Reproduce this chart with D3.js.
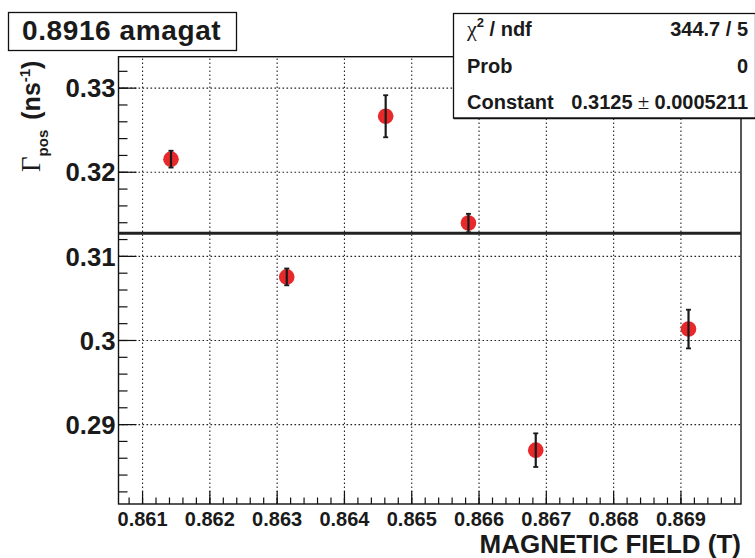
<!DOCTYPE html>
<html>
<head>
<meta charset="utf-8">
<script src="https://cdn.jsdelivr.net/npm/d3@7"></script>
<style>
  body { margin: 0; background: #fff; }
  text { font-family: "Liberation Sans", Arial, sans-serif; font-weight: bold; fill: #1a1a1a; }
</style>
</head>
<body>
<div class="canvas"></div>
<script>
// data
const fieldT = [0.86143, 0.86315, 0.86462, 0.86585, 0.86685, 0.86912];
const gammaPos = [0.3215, 0.3075, 0.3266, 0.3139, 0.2869, 0.3013];
const gammaErr = [0.0010, 0.0010, 0.0025, 0.0011, 0.0020, 0.0023];
const fitConstant = [0.3127];

const xTicks = [0.861, 0.862, 0.863, 0.864, 0.865, 0.866, 0.867, 0.868, 0.869];
const yTicks = [0.29, 0.30, 0.31, 0.32, 0.33];
const yTickLabels = ['0.29', '0.3', '0.31', '0.32', '0.33'];

const statNames = ['ndf', 'Prob', 'Constant'];
const statValues = ['344.7 / 5', '0', '0.3125'];
const constErr = '0.0005211';

// svg container
const svg = d3.select('.canvas')
    .append('svg')
    .attr('width', 755)
    .attr('height', 558);

// frame of the plot
const frame = { left: 118.5, right: 741, top: 56.7, bottom: 504 };

const x = d3.scaleLinear()
    .domain([0.86065, 0.86990])
    .range([frame.left, frame.right]);

const y = d3.scaleLinear()
    .domain([0.2805, 0.33368])
    .range([frame.bottom, frame.top]);

const minorX = d3.range(0.8608, 0.8699, 0.0002).filter(v => v >= 0.86065 && v <= 0.8699);
const minorY = d3.range(0.282, 0.3337, 0.002);

// dotted grid
const gridX = svg.append('g')
    .attr('transform', `translate(0, ${frame.bottom})`)
    .call(d3.axisBottom(x).tickValues(xTicks).tickSize(-(frame.bottom - frame.top)).tickFormat(''));
const gridY = svg.append('g')
    .attr('transform', `translate(${frame.left}, 0)`)
    .call(d3.axisLeft(y).tickValues(yTicks).tickSize(-(frame.right - frame.left)).tickFormat(''));
[gridX, gridY].forEach(g => {
    g.select('.domain').remove();
    g.selectAll('line')
        .attr('stroke', '#222')
        .attr('stroke-width', 1.1)
        .attr('stroke-dasharray', '1.6,2.4');
});

// minor ticks (inside the frame)
const minorXAxis = svg.append('g')
    .attr('transform', `translate(0, ${frame.bottom})`)
    .call(d3.axisBottom(x).tickValues(minorX).tickSize(-6.5).tickFormat(''));
const minorYAxis = svg.append('g')
    .attr('transform', `translate(${frame.left}, 0)`)
    .call(d3.axisLeft(y).tickValues(minorY).tickSize(-9).tickFormat(''));

// major ticks and labels
const xAxisGroup = svg.append('g')
    .attr('transform', `translate(0, ${frame.bottom})`)
    .call(d3.axisBottom(x).tickValues(xTicks).tickSizeInner(-13).tickSizeOuter(0).tickPadding(8)
        .tickFormat(d3.format('.3f')));
const yAxisGroup = svg.append('g')
    .attr('transform', `translate(${frame.left}, 0)`)
    .call(d3.axisLeft(y).tickValues(yTicks).tickSizeInner(-18).tickSizeOuter(0).tickPadding(4)
        .tickFormat((d, i) => yTickLabels[i]));

[minorXAxis, minorYAxis, xAxisGroup, yAxisGroup].forEach(g => {
    g.select('.domain').remove();
    g.selectAll('line').attr('stroke', '#111').attr('stroke-width', 1.2);
});

xAxisGroup.selectAll('text')
    .attr('font-size', 20)
    .attr('fill', '#1a1a1a')
    .attr('y', 21.5)
    .attr('dy', 0);
yAxisGroup.selectAll('text')
    .attr('font-size', 25.7)
    .attr('fill', '#1a1a1a')
    .attr('x', -3)
    .attr('dy', 9.2);

// frame box
svg.append('rect')
    .attr('x', frame.left)
    .attr('y', frame.top)
    .attr('width', frame.right - frame.left)
    .attr('height', frame.bottom - frame.top)
    .attr('fill', 'none')
    .attr('stroke', '#111')
    .attr('stroke-width', 1.4);

// fitted constant
svg.selectAll('.fit')
    .data(fitConstant)
    .enter()
    .append('line')
    .attr('x1', frame.left)
    .attr('x2', frame.right)
    .attr('y1', d => y(d))
    .attr('y2', d => y(d))
    .attr('stroke', '#222')
    .attr('stroke-width', 3);

const points = fieldT.map((f, i) => ({ f: f, g: gammaPos[i], e: gammaErr[i] }));

// markers
svg.selectAll('.marker')
    .data(points)
    .enter()
    .append('circle')
    .attr('cx', d => x(d.f))
    .attr('cy', d => y(d.g))
    .attr('r', 7.8)
    .attr('fill', '#e8292b');

// error bars
const bars = svg.selectAll('.err')
    .data(points)
    .enter()
    .append('g')
    .attr('stroke', '#1a1a1a');
bars.append('line')
    .attr('x1', d => x(d.f)).attr('x2', d => x(d.f))
    .attr('y1', d => y(d.g - d.e)).attr('y2', d => y(d.g + d.e))
    .attr('stroke-width', 2.2);
bars.append('line')
    .attr('x1', d => x(d.f) - 2.5).attr('x2', d => x(d.f) + 2.5)
    .attr('y1', d => y(d.g - d.e)).attr('y2', d => y(d.g - d.e))
    .attr('stroke-width', 1.8);
bars.append('line')
    .attr('x1', d => x(d.f) - 2.5).attr('x2', d => x(d.f) + 2.5)
    .attr('y1', d => y(d.g + d.e)).attr('y2', d => y(d.g + d.e))
    .attr('stroke-width', 1.8);

// x axis title
svg.append('text')
    .attr('x', 741)
    .attr('y', 552.5)
    .attr('text-anchor', 'end')
    .attr('font-size', 26)
    .text('MAGNETIC FIELD (T)');

// y axis title
const yTitle = svg.append('text')
    .attr('transform', 'translate(39.5, 172) rotate(-90)')
    .attr('font-size', 25);
yTitle.append('tspan')
    .style('font-family', '"Liberation Serif", "Times New Roman", serif')
    .style('font-weight', 'normal')
    .attr('font-size', 27)
    .text('Γ');
yTitle.append('tspan').attr('font-size', 15).attr('dy', 8.5).text('pos');
yTitle.append('tspan').attr('dy', -8.5).attr('dx', 10).text('(ns');
yTitle.append('tspan').attr('font-size', 15).attr('dy', -10).text('-1');
yTitle.append('tspan').attr('dy', 10).text(')');

// title box
svg.append('rect')
    .attr('x', 8.5).attr('y', 12.5)
    .attr('width', 228).attr('height', 38)
    .attr('fill', '#fff')
    .attr('stroke', '#111')
    .attr('stroke-width', 1.3);
svg.append('text')
    .attr('x', 22)
    .attr('y', 40)
    .attr('font-size', 28)
    .attr('letter-spacing', 0.6)
    .text('0.8916 amagat');

// stats box
svg.append('rect')
    .attr('x', 453.5).attr('y', 13.5)
    .attr('width', 302).attr('height', 104.5)
    .attr('fill', '#fff')
    .attr('stroke', '#111')
    .attr('stroke-width', 1.3);
svg.append('line')
    .attr('x1', 453.5).attr('x2', 755)
    .attr('y1', 118.5).attr('y2', 118.5)
    .attr('stroke', '#111')
    .attr('stroke-width', 1.5);

const rowY = [36, 73, 108.5];
const nameCol = svg.append('g');
nameCol.selectAll('text')
    .data(statNames)
    .enter()
    .append('text')
    .attr('x', 467)
    .attr('y', (d, i) => rowY[i])
    .attr('font-size', 20)
    .each(function(d, i) {
        const t = d3.select(this);
        if (i === 0) {
            t.append('tspan')
                .style('font-family', '"Liberation Serif", "Times New Roman", serif')
                .style('font-weight', 'normal')
                .attr('font-size', 22)
                .text('χ');
            t.append('tspan').attr('font-size', 13).attr('dy', -9).text('2');
            t.append('tspan').attr('dy', 9).text(' / ' + d);
        } else {
            t.text(d);
        }
    });

const valCol = svg.append('g');
valCol.selectAll('text')
    .data(statValues)
    .enter()
    .append('text')
    .attr('x', 748)
    .attr('y', (d, i) => rowY[i])
    .attr('text-anchor', 'end')
    .attr('font-size', 20)
    .each(function(d, i) {
        const t = d3.select(this);
        if (i === 2) {
            t.append('tspan').text(d);
            t.append('tspan')
                .style('font-family', '"Liberation Serif", "Times New Roman", serif')
                .style('font-weight', 'normal')
                .attr('font-size', 21)
                .text(' ± ');
            t.append('tspan').text(constErr);
        } else {
            t.text(d);
        }
    });
</script>
</body>
</html>
